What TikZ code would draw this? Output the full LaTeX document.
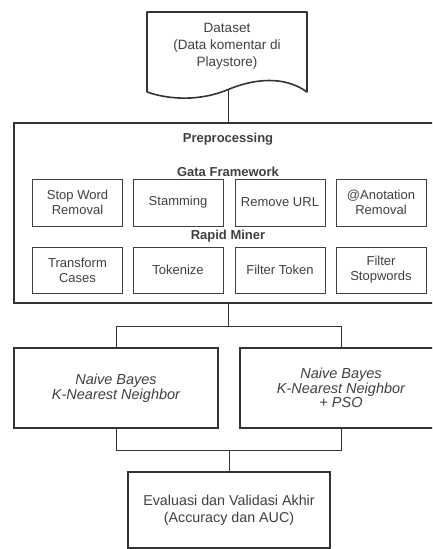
\documentclass[tikz,border=0pt]{standalone}
\usepackage{fontspec}
\setmainfont{Liberation Sans}
\begin{document}
\begin{tikzpicture}[x=1pt, y=-1pt,
    font=\fontsize{13}{15}\selectfont,
    every node/.style={text=black!75, align=center},
    outerbox/.style={draw=black!80, line width=1.6pt, inner sep=0pt},
    stepbox/.style={draw=black!75, line width=0.9pt, minimum width=90pt,
      minimum height=47pt, inner sep=0pt},
    heading/.style={font=\bfseries\fontsize{13}{15}\selectfont},
    model/.style={outerbox, minimum height=80pt,
      font=\itshape\fontsize{14.5}{14.5}\selectfont},
    link/.style={draw=black!80, line width=0.9pt}]
    \useasboundingbox (0,0) rectangle (432,549);
    \clip (0,0) rectangle (432,549);
    % dataset (document shape)
    \draw[draw=black!80, line width=1.6pt, line join=round]
      (147,92) -- (147,12) -- (307,12) -- (307,92)
      .. controls (285,76) and (255,78) .. (227,90)
      .. controls (200,101) and (170,100) .. (147,92);
    \node[font=\fontsize{13.5}{17}\selectfont] (dataset) at (227,46)
      {Dataset\\(Data komentar di\\Playstore)};
    \coordinate (dsout) at (228,90);
    % preprocessing frame
    \node[outerbox, minimum width=428pt, minimum height=180pt]
      (prep) at (228,213) {};
    \node[heading] (preptitle) at (228,139) {Preprocessing};
    \node[heading] (gata) at (228,172) {Gata Framework};
    \node[heading] (rapid) at (228,236) {Rapid Miner};
    \node[stepbox] (stopword) at (77.5,202.5) {Stop Word\\Removal};
    \node[stepbox] (stemming) at (178,202.5) {Stamming};
    \node[stepbox] (removeurl) at (280,202.5) {Remove URL};
    \node[stepbox] (anotation) at (381,202.5) {@Anotation\\Removal};
    \node[stepbox, minimum height=46pt] (transform) at (77.5,270)
      {Transform\\Cases};
    \node[stepbox, minimum height=46pt] (tokenize) at (178,270) {Tokenize};
    \node[stepbox, minimum height=46pt] (filtertoken) at (280,270)
      {Filter Token};
    \node[stepbox, minimum height=46pt] (filterstop) at (381,270)
      {Filter\\Stopwords};
    % models
    \node[model, minimum width=204pt] (nb) at (116,388)
      {Naive Bayes\\K-Nearest Neighbor};
    \node[model, minimum width=202pt] (nbpso) at (341,388)
      {Naive Bayes\\K-Nearest Neighbor\\+ PSO};
    % evaluation
    \node[outerbox, minimum width=202pt, minimum height=76pt,
      font=\fontsize{14.3}{17}\selectfont] (eval) at (229,510)
      {Evaluasi dan Validasi Akhir\\(Accuracy dan AUC)};
    % connectors
    \coordinate (split) at (228,326);
    \coordinate (merge) at (229,450);
    \draw[link] (dsout) -- (prep.north);
    \draw[link] (prep.south) -- (split);
    \draw[link] (split) -| (nb.north);
    \draw[link] (split) -| (nbpso.north);
    \draw[link] (nb.south) |- (merge);
    \draw[link] (nbpso.south) |- (merge);
    \draw[link] (merge) -- (eval.north);
  \end{tikzpicture}
\end{document}
